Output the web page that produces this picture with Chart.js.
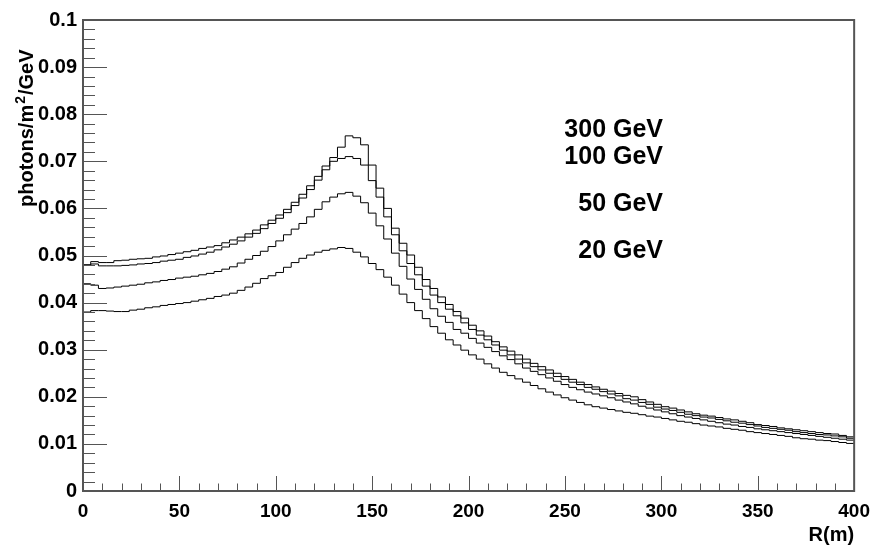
<!DOCTYPE html>
<html>
<head>
<meta charset="utf-8">
<script src="https://cdn.jsdelivr.net/npm/chart.js@4.4.0/dist/chart.umd.min.js"></script>
<style>
  html, body { margin: 0; padding: 0; background: #fff; }
  canvas { display: block; }
</style>
</head>
<body>
<canvas id="grafico-fotones" width="879" height="552"></canvas>
<script>
// Histogramas: 100 bins de 4 m entre R = 0 y 400 m
const rMin = 0;
const binWidth = 4;

const e300 = [
  0.0480, 0.0487, 0.0485, 0.0485, 0.0489, 0.0490, 0.0492, 0.0493, 0.0494, 0.0497,
  0.0499, 0.0502, 0.0505, 0.0508, 0.0511, 0.0515, 0.0518, 0.0521, 0.0527, 0.0533,
  0.0539, 0.0546, 0.0554, 0.0565, 0.0575, 0.0586, 0.0598, 0.0613, 0.0630, 0.0648,
  0.0668, 0.0690, 0.0708, 0.0730, 0.0754, 0.0750, 0.0735, 0.0692, 0.0643, 0.0600,
  0.0558, 0.0526, 0.0501, 0.0475, 0.0449, 0.0430, 0.0412, 0.0396, 0.0381, 0.0367,
  0.0352, 0.0340, 0.0329, 0.0317, 0.0306, 0.0297, 0.0289, 0.0280, 0.0271, 0.0264,
  0.0257, 0.0250, 0.0243, 0.0237, 0.0231, 0.0226, 0.0221, 0.0216, 0.0212, 0.0207,
  0.0203, 0.0200, 0.0194, 0.0189, 0.0184, 0.0179, 0.0176, 0.0172, 0.0168, 0.0164,
  0.0161, 0.0159, 0.0156, 0.0153, 0.0151, 0.0148, 0.0145, 0.0141, 0.0139, 0.0137,
  0.0134, 0.0132, 0.0130, 0.0128, 0.0126, 0.0124, 0.0122, 0.0121, 0.0118, 0.0115
];

const e100 = [
  0.0480, 0.0482, 0.0478, 0.0478, 0.0478, 0.0479, 0.0480, 0.0482, 0.0483, 0.0485,
  0.0488, 0.0490, 0.0492, 0.0496, 0.0499, 0.0503, 0.0507, 0.0512, 0.0518, 0.0524,
  0.0531, 0.0539, 0.0547, 0.0557, 0.0568, 0.0579, 0.0591, 0.0606, 0.0622, 0.0640,
  0.0660, 0.0682, 0.0700, 0.0706, 0.0710, 0.0706, 0.0692, 0.0659, 0.0624, 0.0582,
  0.0544, 0.0510, 0.0483, 0.0459, 0.0435, 0.0416, 0.0400, 0.0386, 0.0372, 0.0357,
  0.0343, 0.0331, 0.0321, 0.0310, 0.0299, 0.0289, 0.0280, 0.0272, 0.0264, 0.0257,
  0.0250, 0.0243, 0.0237, 0.0231, 0.0226, 0.0220, 0.0216, 0.0211, 0.0206, 0.0202,
  0.0196, 0.0193, 0.0188, 0.0184, 0.0178, 0.0174, 0.0171, 0.0167, 0.0163, 0.0160,
  0.0157, 0.0155, 0.0152, 0.0149, 0.0146, 0.0144, 0.0141, 0.0138, 0.0135, 0.0133,
  0.0131, 0.0129, 0.0126, 0.0124, 0.0122, 0.0120, 0.0119, 0.0117, 0.0115, 0.0112
];

const e50 = [
  0.0440, 0.0437, 0.0430, 0.0431, 0.0433, 0.0435, 0.0437, 0.0439, 0.0442, 0.0444,
  0.0447, 0.0449, 0.0452, 0.0454, 0.0456, 0.0459, 0.0462, 0.0466, 0.0471, 0.0476,
  0.0484, 0.0492, 0.0500, 0.0509, 0.0519, 0.0531, 0.0544, 0.0556, 0.0568, 0.0582,
  0.0598, 0.0614, 0.0624, 0.0631, 0.0634, 0.0626, 0.0612, 0.0590, 0.0563, 0.0535,
  0.0505, 0.0477, 0.0450, 0.0428, 0.0407, 0.0387, 0.0371, 0.0358, 0.0343, 0.0335,
  0.0324, 0.0314, 0.0305, 0.0296, 0.0287, 0.0279, 0.0270, 0.0261, 0.0254, 0.0247,
  0.0240, 0.0233, 0.0226, 0.0220, 0.0215, 0.0210, 0.0206, 0.0202, 0.0198, 0.0193,
  0.0189, 0.0185, 0.0180, 0.0176, 0.0172, 0.0168, 0.0164, 0.0160, 0.0157, 0.0154,
  0.0151, 0.0148, 0.0145, 0.0142, 0.0140, 0.0137, 0.0135, 0.0132, 0.0130, 0.0128,
  0.0126, 0.0124, 0.0122, 0.0120, 0.0118, 0.0116, 0.0114, 0.0112, 0.0110, 0.0108
];

const e20 = [
  0.0380, 0.0383, 0.0383, 0.0382, 0.0381, 0.0381, 0.0384, 0.0386, 0.0389, 0.0391,
  0.0394, 0.0396, 0.0398, 0.0400, 0.0403, 0.0406, 0.0409, 0.0413, 0.0416, 0.0420,
  0.0426, 0.0433, 0.0441, 0.0451, 0.0457, 0.0464, 0.0475, 0.0485, 0.0494, 0.0501,
  0.0507, 0.0511, 0.0514, 0.0517, 0.0515, 0.0507, 0.0497, 0.0483, 0.0470, 0.0454,
  0.0437, 0.0418, 0.0400, 0.0383, 0.0366, 0.0349, 0.0335, 0.0321, 0.0310, 0.0299,
  0.0289, 0.0280, 0.0270, 0.0261, 0.0252, 0.0245, 0.0238, 0.0231, 0.0224, 0.0217,
  0.0210, 0.0204, 0.0198, 0.0193, 0.0188, 0.0183, 0.0179, 0.0176, 0.0173, 0.0170,
  0.0167, 0.0165, 0.0162, 0.0159, 0.0157, 0.0154, 0.0151, 0.0148, 0.0146, 0.0143,
  0.0140, 0.0138, 0.0136, 0.0133, 0.0131, 0.0129, 0.0126, 0.0124, 0.0122, 0.0120,
  0.0118, 0.0116, 0.0113, 0.0111, 0.0110, 0.0108, 0.0107, 0.0105, 0.0103, 0.0101
];

const etiquetas = ['300 GeV', '100 GeV', '50 GeV', '20 GeV'];
const tituloX = 'R(m)';
// título Y en partes: texto, exponente, texto
const tituloY = ['photons/m', '2', '/GeV'];

const FUENTE = "'Liberation Sans', Arial, sans-serif";

// Convierte un histograma en puntos para una línea escalonada
function aPuntos(valores) {
  const puntos = valores.map((v, i) => ({ x: rMin + i * binWidth, y: v }));
  // borde superior del último bin
  puntos.push({ x: rMin + valores.length * binWidth, y: valores[valores.length - 1] });
  return puntos;
}

// Marco, marcas interiores y textos al estilo ROOT
const marcoRoot = {
  id: 'marcoRoot',
  afterDraw(chart) {
    const { ctx, chartArea: a, scales: { x, y } } = chart;
    ctx.save();

    // marcas del eje X (cada 10 m, mayores cada 50 m)
    ctx.strokeStyle = '#555';
    ctx.lineWidth = 1;
    ctx.beginPath();
    for (let v = 0; v <= 400; v += 10) {
      const px = Math.round(x.getPixelForValue(v)) + 0.5;
      const largo = v % 50 === 0 ? 15 : 7.5;
      ctx.moveTo(px, a.bottom);
      ctx.lineTo(px, a.bottom - largo);
    }
    // marcas del eje Y (cada 0.002, mayores cada 0.01)
    for (let k = 0; k <= 50; k++) {
      const py = Math.round(y.getPixelForValue(k * 0.002)) + 0.5;
      const largo = k % 5 === 0 ? 24 : 12;
      ctx.moveTo(a.left, py);
      ctx.lineTo(a.left + largo, py);
    }
    ctx.stroke();

    // marco
    ctx.lineWidth = 2;
    ctx.strokeStyle = '#555';
    ctx.strokeRect(a.left, a.top, a.right - a.left, a.bottom - a.top);

    // etiquetas de energía
    ctx.fillStyle = '#000';
    ctx.font = 'bold 25px ' + FUENTE;
    ctx.textAlign = 'right';
    ctx.textBaseline = 'alphabetic';
    const baseEtiquetas = [137, 164, 211, 258];
    etiquetas.forEach((t, i) => ctx.fillText(t, 663, baseEtiquetas[i]));

    // título eje X
    ctx.font = 'bold 20px ' + FUENTE;
    ctx.fillText(tituloX, a.right, 541);

    // título eje Y (girado, con exponente)
    ctx.translate(33, 207);
    ctx.rotate(-Math.PI / 2);
    ctx.textAlign = 'left';
    let pos = 0;
    ctx.font = 'bold 20px ' + FUENTE;
    ctx.fillText(tituloY[0], pos, 0);
    pos += ctx.measureText(tituloY[0]).width + 1;
    ctx.font = 'bold 14px ' + FUENTE;
    ctx.fillText(tituloY[1], pos, -8);
    pos += ctx.measureText(tituloY[1]).width + 1;
    ctx.font = 'bold 20px ' + FUENTE;
    ctx.fillText(tituloY[2], pos, 0);

    ctx.restore();
  }
};

const canvas = document.getElementById('grafico-fotones');

new Chart(canvas, {
  type: 'line',
  data: {
    datasets: [e300, e100, e50, e20].map((serie, i) => ({
      label: etiquetas[i],
      data: aPuntos(serie),
      borderColor: '#000',
      borderWidth: 1,
      pointRadius: 0,
      stepped: 'before',
      fill: false
    }))
  },
  options: {
    responsive: false,
    animation: false,
    layout: {
      padding: { left: 0, right: 21, top: 20, bottom: 0 }
    },
    plugins: {
      legend: { display: false },
      tooltip: { enabled: false }
    },
    scales: {
      x: {
        type: 'linear',
        min: 0,
        max: 400,
        grid: { display: false, drawTicks: false },
        border: { display: false },
        ticks: {
          stepSize: 50,
          padding: 9,
          color: '#000',
          maxRotation: 0,
          font: { family: FUENTE, size: 19, weight: 'bold' }
        },
        afterFit: function(scale) { scale.height = 61; }
      },
      y: {
        min: 0,
        max: 0.1,
        grid: { display: false, drawTicks: false },
        border: { display: false },
        ticks: {
          stepSize: 0.01,
          padding: 6,
          color: '#000',
          font: { family: FUENTE, size: 20, weight: 'bold' },
          callback: function(value) {
            return String(Number(value.toFixed(2)));
          }
        },
        afterFit: function(scale) { scale.width = 83; }
      }
    }
  },
  plugins: [marcoRoot]
});
</script>
</body>
</html>
